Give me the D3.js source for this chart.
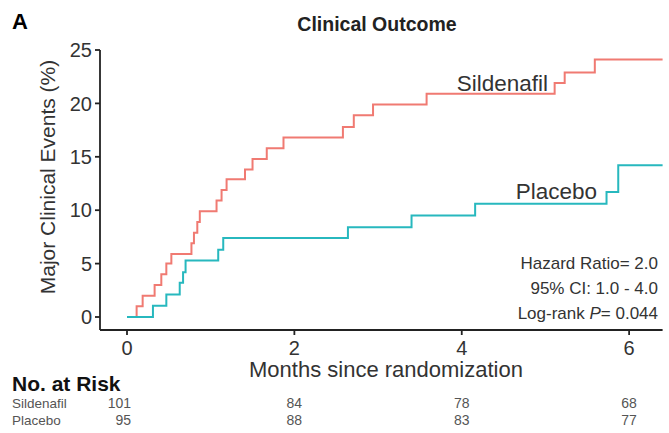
<!DOCTYPE html>
<html>
<head>
<meta charset="utf-8">
<script src="https://cdn.jsdelivr.net/npm/d3@7"></script>
<style>
  body { margin: 0; background: #fff; }
  svg { display: block; font-family: "Liberation Sans", Arial, sans-serif; }
</style>
</head>
<body>
<div id="chart"></div>
<script>
// step curves (months, cumulative % with event)
const sildenafilTimes = [0, 0.115, 0.187, 0.33, 0.41, 0.47, 0.53, 0.77, 0.80, 0.84, 0.87, 1.07, 1.13, 1.19, 1.41, 1.50, 1.67, 1.87, 2.58, 2.71, 2.94, 3.58, 5.11, 5.23, 5.59, 6.4];
const sildenafilPct   = [0, 1.0, 2.0, 3.0, 4.0, 5.0, 5.9, 6.9, 7.9, 8.9, 9.9, 10.9, 11.9, 12.9, 13.8, 14.8, 15.8, 16.8, 17.8, 18.9, 19.9, 20.9, 21.9, 22.9, 24.1, 24.1];
const placeboTimes = [0, 0.31, 0.47, 0.63, 0.67, 0.70, 1.09, 1.15, 2.64, 3.40, 4.16, 5.73, 5.87, 6.4];
const placeboPct   = [0, 1.05, 2.1, 3.2, 4.2, 5.3, 6.3, 7.4, 8.4, 9.5, 10.6, 11.7, 14.2, 14.2];

const xTicks = [0, 2, 4, 6];
const yTicks = [0, 5, 10, 15, 20, 25];

// number at risk table
const riskGroups = ["Sildenafil", "Placebo"];
const riskSildenafil = [101, 84, 78, 68];
const riskPlacebo = [95, 88, 83, 77];

const statsLines = ["Hazard Ratio= 2.0", "95% CI: 1.0 - 4.0", "Log-rank P= 0.044"];

const red = "#f07a72", teal = "#27b8be";
const width = 669, height = 433;

const svg = d3.select("#chart").append("svg")
    .attr("width", width).attr("height", height);

const x = d3.scaleLinear().domain([0, 6.4]).range([127, 662.6]);
const y = d3.scaleLinear().domain([0, 25]).range([317, 50]);
const axisX0 = 100, axisY0 = 330;

// panel letter + title
svg.append("text").attr("x", 12).attr("y", 29)
    .style("font-size", "22px").style("font-weight", "bold").text("A");
svg.append("text").attr("x", 377).attr("y", 31).attr("text-anchor", "middle")
    .style("font-size", "19.5px").style("font-weight", "bold").attr("fill", "#222")
    .text("Clinical Outcome");

// axes
const axes = svg.append("g").attr("stroke", "#222").attr("stroke-width", 1.8);
axes.append("line").attr("x1", axisX0).attr("x2", axisX0).attr("y1", y(25)).attr("y2", axisY0);
axes.append("line").attr("x1", axisX0).attr("x2", x(6.4)).attr("y1", axisY0).attr("y2", axisY0);
axes.selectAll(".yt").data(yTicks).enter().append("line")
    .attr("x1", axisX0 - 5).attr("x2", axisX0).attr("y1", d => y(d)).attr("y2", d => y(d));
axes.selectAll(".xt").data(xTicks).enter().append("line")
    .attr("x1", d => x(d)).attr("x2", d => x(d)).attr("y1", axisY0).attr("y2", axisY0 + 5);

svg.selectAll(".ylab").data(yTicks).enter().append("text")
    .attr("x", axisX0 - 8).attr("y", d => y(d)).attr("dy", "0.36em")
    .attr("text-anchor", "end").attr("fill", "#333").style("font-size", "20px")
    .text(d => d);
svg.selectAll(".xlab").data(xTicks).enter().append("text")
    .attr("x", d => x(d)).attr("y", 355).attr("text-anchor", "middle")
    .attr("fill", "#333").style("font-size", "20px")
    .text(d => d);

svg.append("text").attr("x", 386).attr("y", 377).attr("text-anchor", "middle")
    .attr("fill", "#333").style("font-size", "22px").text("Months since randomization");
svg.append("text")
    .attr("transform", "translate(55,177) rotate(-90)")
    .attr("text-anchor", "middle").attr("fill", "#333").style("font-size", "21px")
    .text("Major Clinical Events (%)");

// curves
const line = d3.line().x(d => x(d[0])).y(d => y(d[1])).curve(d3.curveStepAfter);
svg.append("path").datum(d3.zip(sildenafilTimes, sildenafilPct))
    .attr("d", line).attr("fill", "none").attr("stroke", red).attr("stroke-width", 2);
svg.append("path").datum(d3.zip(placeboTimes, placeboPct))
    .attr("d", line).attr("fill", "none").attr("stroke", teal).attr("stroke-width", 2);

// curve labels
svg.append("text").attr("x", 548).attr("y", 91).attr("text-anchor", "end")
    .attr("fill", "#333").style("font-size", "22.5px").text("Sildenafil");
svg.append("text").attr("x", 597).attr("y", 199).attr("text-anchor", "end")
    .attr("fill", "#333").style("font-size", "22.5px").text("Placebo");

// stats
const stats = svg.append("g").attr("fill", "#333").style("font-size", "17px").attr("text-anchor", "end");
stats.append("text").attr("x", 658).attr("y", 269).text(statsLines[0]);
stats.append("text").attr("x", 658).attr("y", 294).text(statsLines[1]);
const p = stats.append("text").attr("x", 658).attr("y", 319);
p.append("tspan").text("Log-rank ");
p.append("tspan").style("font-style", "italic").text("P");
p.append("tspan").text("= 0.044");

// risk table
svg.append("text").attr("x", 12).attr("y", 391)
    .style("font-size", "21px").style("font-weight", "bold").attr("fill", "#111").text("No. at Risk");
[riskSildenafil, riskPlacebo].forEach((vals, i) => {
    const ty = 408 + i * 17;
    svg.append("text").attr("x", 12).attr("y", ty)
        .attr("fill", "#555").style("font-size", "13.5px").text(riskGroups[i]);
    svg.selectAll(".risk" + i).data(vals).enter().append("text")
        .attr("x", (d, j) => j === 0 ? x(xTicks[j]) + 4 : x(xTicks[j]))
        .attr("y", ty)
        .attr("text-anchor", (d, j) => j === 0 ? "end" : "middle")
        .attr("fill", "#555").style("font-size", "14px")
        .text(d => d);
});
</script>
</body>
</html>
